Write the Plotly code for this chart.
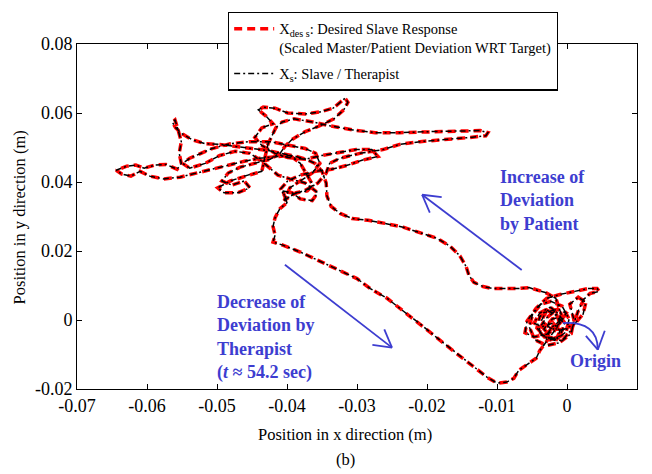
import plotly.graph_objects as go

# ---- trajectory data (m), listed segment by segment ----
# wandering around the origin
x_origin = [-0.0006, -0.0016, -0.0029, -0.0039, -0.0043, -0.0031, -0.0014, -0.0001, 0.0003, -0.0007,
            -0.0023, -0.0037, -0.0049, -0.0054, -0.0046, -0.0029, -0.0011, 0.0006, 0.0010, 0.0004,
            0.0016, 0.0027, 0.0023, 0.0011, -0.0006, -0.0024, -0.0037, -0.0030, -0.0013, -0.0001,
            -0.0010, -0.0027, -0.0047, -0.0060, -0.0057, -0.0044, -0.0029, -0.0010, 0.0011, 0.0030,
            0.0043, 0.0046, 0.0033, 0.0024, 0.0016, 0.0007, -0.0007, -0.0021, -0.0033, -0.0021,
            -0.0007, -0.0016, -0.0031, -0.0043]
y_origin = [-0.0006, 0.0014, 0.0029, 0.0009, -0.0023, -0.0049, -0.0054, -0.0034, 0.0003, 0.0040,
            0.0054, 0.0046, 0.0017, -0.0020, -0.0057, -0.0074, -0.0066, -0.0040, 0.0000, 0.0046,
            0.0066, 0.0051, 0.0017, -0.0011, -0.0029, -0.0023, -0.0003, 0.0023, 0.0031, 0.0020,
            -0.0009, -0.0040, -0.0049, -0.0037, -0.0003, 0.0034, 0.0063, 0.0074, 0.0083, 0.0091,
            0.0091, 0.0083, 0.0077, 0.0060, 0.0026, -0.0026, -0.0060, -0.0054, -0.0026, 0.0003,
            0.0009, 0.0063, 0.0080, 0.0086]

# deviation growing (patient drives away from the target)
x_outward = [-0.0054, -0.0071, -0.0089, -0.0106, -0.0120, -0.0133, -0.0140, -0.0144, -0.0153, -0.0167,
             -0.0186, -0.0210, -0.0234, -0.0260, -0.0284, -0.0307, -0.0324, -0.0337, -0.0343, -0.0344]
y_outward = [0.0094, 0.0091, 0.0091, 0.0091, 0.0097, 0.0109, 0.0129, 0.0154, 0.0186, 0.0214,
             0.0237, 0.0254, 0.0269, 0.0280, 0.0289, 0.0294, 0.0309, 0.0329, 0.0360, 0.0397]

# exploration far from the target
x_far = [-0.0350, -0.0360, -0.0373, -0.0387, -0.0406, -0.0427, -0.0450, -0.0473, -0.0496, -0.0517,
         -0.0536, -0.0550, -0.0559, -0.0564, -0.0560, -0.0556, -0.0551, -0.0554, -0.0551, -0.0557,
         -0.0573, -0.0589, -0.0604, -0.0616, -0.0629, -0.0644, -0.0636, -0.0623, -0.0610, -0.0596,
         -0.0576, -0.0553, -0.0530, -0.0507, -0.0484, -0.0461, -0.0439, -0.0417, -0.0396, -0.0381,
         -0.0371, -0.0363, -0.0371, -0.0387, -0.0401, -0.0409, -0.0399, -0.0381, -0.0359, -0.0336,
         -0.0313, -0.0293, -0.0270, -0.0279, -0.0301, -0.0324, -0.0350, -0.0374, -0.0399, -0.0417,
         -0.0436, -0.0446, -0.0436, -0.0420, -0.0430, -0.0441, -0.0434, -0.0417, -0.0399, -0.0374,
         -0.0353, -0.0334, -0.0323, -0.0317, -0.0313, -0.0319, -0.0333, -0.0353, -0.0374, -0.0393,
         -0.0403, -0.0410, -0.0424, -0.0446, -0.0467, -0.0484, -0.0493, -0.0479, -0.0461, -0.0453,
         -0.0470, -0.0490, -0.0499, -0.0481, -0.0456, -0.0436, -0.0427, -0.0416, -0.0407, -0.0390,
         -0.0363, -0.0339, -0.0306, -0.0274, -0.0239, -0.0196, -0.0153, -0.0124, -0.0113, -0.0116,
         -0.0139, -0.0174, -0.0210, -0.0239, -0.0263, -0.0296, -0.0324, -0.0339, -0.0344, -0.0356,
         -0.0373, -0.0393, -0.0404]
y_far = [0.0431, 0.0454, 0.0466, 0.0474, 0.0483, 0.0491, 0.0497, 0.0503, 0.0509, 0.0511,
         0.0523, 0.0540, 0.0557, 0.0574, 0.0580, 0.0554, 0.0517, 0.0483, 0.0454, 0.0437,
         0.0451, 0.0449, 0.0440, 0.0449, 0.0446, 0.0434, 0.0423, 0.0417, 0.0431, 0.0417,
         0.0409, 0.0414, 0.0426, 0.0437, 0.0449, 0.0460, 0.0469, 0.0474, 0.0477, 0.0454,
         0.0420, 0.0391, 0.0374, 0.0369, 0.0351, 0.0380, 0.0403, 0.0420, 0.0431, 0.0437,
         0.0449, 0.0463, 0.0474, 0.0494, 0.0494, 0.0486, 0.0477, 0.0466, 0.0471, 0.0483,
         0.0506, 0.0529, 0.0557, 0.0569, 0.0591, 0.0609, 0.0617, 0.0614, 0.0600, 0.0597,
         0.0603, 0.0614, 0.0631, 0.0643, 0.0631, 0.0609, 0.0583, 0.0563, 0.0546, 0.0523,
         0.0503, 0.0483, 0.0466, 0.0454, 0.0443, 0.0426, 0.0403, 0.0391, 0.0403, 0.0383,
         0.0369, 0.0369, 0.0383, 0.0403, 0.0420, 0.0431, 0.0511, 0.0557, 0.0574, 0.0583,
         0.0574, 0.0563, 0.0551, 0.0543, 0.0543, 0.0546, 0.0549, 0.0549, 0.0543, 0.0534,
         0.0529, 0.0523, 0.0517, 0.0509, 0.0494, 0.0483, 0.0469, 0.0454, 0.0426, 0.0397,
         0.0377, 0.0363, 0.0346]

# further loops before the therapist takes over
x_tangle = [-0.0396, -0.0381, -0.0364, -0.0353, -0.0359, -0.0374, -0.0396, -0.0424, -0.0453, -0.0481,
            -0.0507, -0.0524, -0.0539, -0.0549, -0.0539, -0.0517, -0.0496, -0.0474, -0.0453, -0.0436,
            -0.0424, -0.0413, -0.0396, -0.0374, -0.0356, -0.0364, -0.0381, -0.0393, -0.0406, -0.0400]
y_tangle = [0.0383, 0.0403, 0.0426, 0.0454, 0.0483, 0.0497, 0.0506, 0.0517, 0.0517, 0.0511,
            0.0497, 0.0483, 0.0469, 0.0454, 0.0440, 0.0454, 0.0477, 0.0489, 0.0483, 0.0460,
            0.0440, 0.0420, 0.0409, 0.0397, 0.0369, 0.0346, 0.0351, 0.0369, 0.0374, 0.0340]

# deviation reduced by the therapist, back to the origin
x_return = [-0.0410, -0.0417, -0.0420, -0.0417, -0.0420, -0.0406, -0.0381, -0.0357, -0.0329, -0.0300,
            -0.0281, -0.0257, -0.0234, -0.0210, -0.0186, -0.0163, -0.0139, -0.0114, -0.0100, -0.0086,
            -0.0076, -0.0069, -0.0057, -0.0044, -0.0039, -0.0030, -0.0020, -0.0010]
y_return = [0.0323, 0.0297, 0.0271, 0.0246, 0.0226, 0.0217, 0.0197, 0.0174, 0.0149, 0.0120,
            0.0091, 0.0063, 0.0026, -0.0011, -0.0051, -0.0089, -0.0126, -0.0166, -0.0183, -0.0180,
            -0.0169, -0.0146, -0.0129, -0.0111, -0.0089, -0.0066, -0.0037, -0.0009]

# settling around the origin
x_settle = [-0.0017, -0.0031, -0.0041, -0.0027, -0.0010, -0.0003, -0.0013, -0.0024, -0.0039, -0.0047,
            -0.0036, -0.0020, -0.0010, -0.0016, -0.0031, -0.0021, -0.0007]
y_settle = [0.0026, 0.0003, -0.0031, -0.0060, -0.0046, -0.0009, 0.0020, 0.0037, 0.0020, -0.0009,
            -0.0020, -0.0009, -0.0031, -0.0060, -0.0049, -0.0020, 0.0003]

x_des = x_origin + x_outward + x_far + x_tangle + x_return + x_settle
y_des = y_origin + y_outward + y_far + y_tangle + y_return + y_settle
# the slave follows the desired response to within plotting resolution
x_slave = list(x_des)
y_slave = list(y_des)

x_ticks = [-0.07, -0.06, -0.05, -0.04, -0.03, -0.02, -0.01, 0, 0.01]
x_tick_text = ["-0.07", "-0.06", "-0.05", "-0.04", "-0.03", "-0.02", "-0.01", "0", "0.01"]
y_ticks = [-0.02, 0, 0.02, 0.04, 0.06, 0.08]
y_tick_text = ["-0.02", "0", "0.02", "0.04", "0.06", "0.08"]

SERIF = "Liberation Serif"
BLUE = "#3d3dd0"

fig = go.Figure()
fig.add_trace(go.Scatter(
    x=x_des, y=y_des, mode="lines", legendgroup="des",
    name="X<sub>des s</sub>: Desired Slave Response<br>(Scaled Master/Patient Deviation WRT Target)",
    line=dict(color="#ff0000", width=3.5, dash="8px,5px"),
))
fig.add_trace(go.Scatter(
    x=x_slave, y=y_slave, mode="lines", legendgroup="slave",
    name="X<sub>s</sub>: Slave / Therapist",
    line=dict(color="#000000", width=1.5, dash="6px,3px,2px,3px"),
))

axis_common = dict(
    showline=True, linecolor="black", linewidth=1, mirror="ticks",
    ticks="inside", ticklen=5, tickcolor="black", tickwidth=1,
    showgrid=False, zeroline=False,
    tickfont=dict(family=SERIF, size=18, color="black"),
)
fig.update_xaxes(range=[-0.07, 0.01], tickvals=x_ticks, ticktext=x_tick_text, **axis_common)
fig.update_yaxes(range=[-0.02, 0.08], tickvals=y_ticks, ticktext=y_tick_text, **axis_common)

label_font = dict(family=SERIF, size=16.5, color="black")
note_font = dict(family=SERIF, size=18, color=BLUE, weight="bold")
annotations = [
    dict(text="Position in x direction (m)", xref="paper", yref="paper", x=0.479, y=-0.131,
         xanchor="center", yanchor="middle", showarrow=False, font=label_font),
    dict(text="(b)", xref="paper", yref="paper", x=0.479, y=-0.203,
         xanchor="center", yanchor="middle", showarrow=False, font=label_font),
    dict(text="Position in y direction (m)", xref="paper", yref="paper", x=-0.102, y=0.497,
         xanchor="center", yanchor="middle", textangle=-90, showarrow=False, font=label_font),
    dict(text="Increase of<br>Deviation<br>by Patient", x=-0.0099, y=0.0346, xref="x", yref="y",
         xanchor="left", yanchor="middle", align="left", showarrow=False, font=note_font),
    dict(text="Decrease of<br>Deviation by<br>Therapist<br>(<i>t</i> \u2248 54.2 sec)",
         x=-0.0503, y=-0.0051, xref="x", yref="y",
         xanchor="left", yanchor="middle", align="left", showarrow=False, font=note_font),
    dict(text="Origin", x=0.0001, y=-0.0120, xref="x", yref="y",
         xanchor="left", yanchor="middle", align="left", showarrow=False, font=note_font),
]

arrow_line = dict(color=BLUE, width=1.8)
shapes = [
    # increase arrow
    dict(type="line", x0=-0.00647, y0=0.0145, x1=-0.0207, y1=0.0363, line=arrow_line),
    dict(type="line", x0=-0.0179, y0=0.0356, x1=-0.0207, y1=0.0363, line=arrow_line),
    dict(type="line", x0=-0.0196, y0=0.0311, x1=-0.0207, y1=0.0363, line=arrow_line),
    # decrease arrow
    dict(type="line", x0=-0.0403, y0=0.0160, x1=-0.0250, y1=-0.0080, line=arrow_line),
    dict(type="line", x0=-0.0261, y0=-0.0027, x1=-0.0250, y1=-0.0080, line=arrow_line),
    dict(type="line", x0=-0.0278, y0=-0.0072, x1=-0.0250, y1=-0.0080, line=arrow_line),
    # curved arrow to the origin
    dict(type="path", path="M -0.0006,-0.0009 Q 0.0044,-0.0003 0.0044,-0.0086", line=arrow_line),
    dict(type="line", x0=0.0027, y0=-0.0046, x1=0.0044, y1=-0.0086, line=arrow_line),
    dict(type="line", x0=0.0054, y0=-0.0031, x1=0.0044, y1=-0.0086, line=arrow_line),
]

fig.update_layout(
    width=652, height=474,
    margin=dict(l=77, r=15, t=39, b=85),
    paper_bgcolor="white", plot_bgcolor="white",
    font=dict(family=SERIF, color="black"),
    showlegend=True,
    legend=dict(
        x=0.2696, y=1.094, xanchor="left", yanchor="top",
        bgcolor="white", bordercolor="black", borderwidth=1.2,
        font=dict(family=SERIF, size=14.5, color="black"),
        valign="top", itemwidth=40, tracegroupgap=4,
    ),
    annotations=annotations,
    shapes=shapes,
)

fig.write_html("out.html")
